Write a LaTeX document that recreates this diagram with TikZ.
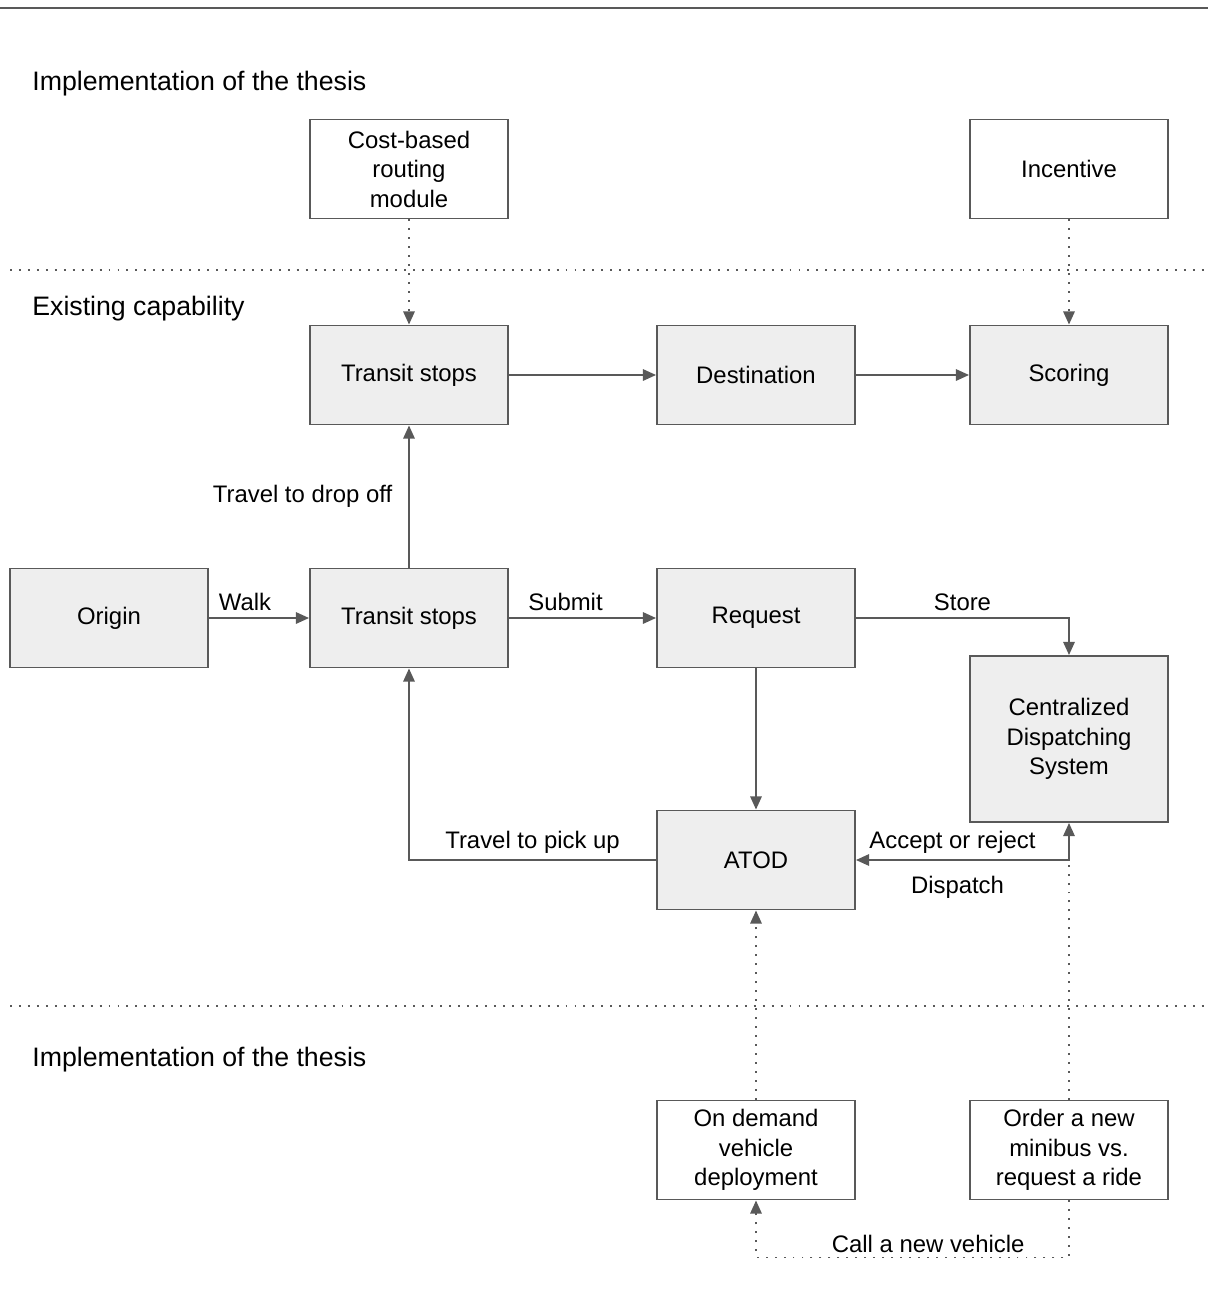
\documentclass[tikz,border=0pt]{standalone}
\usepackage{fontspec}
\setmainfont{Liberation Sans}
\usetikzlibrary{arrows.meta}
\definecolor{edgegray}{HTML}{595959}
\definecolor{boxfill}{HTML}{EEEEEE}

\begin{document}
\begin{tikzpicture}[x=0.02cm, y=-0.02cm, font=\fontsize{13.6pt}{16.8pt}\selectfont,
  >={Triangle[length=7.5pt,width=6.5pt]}]% one unit = one pixel of the sketch
\tikzstyle{block}=[draw=edgegray, line width=1.1pt, fill=boxfill, minimum width=3.96cm, minimum height=1.98cm, align=center, inner sep=2pt]
\tikzstyle{thesis}=[block, fill=white]
\tikzstyle{flow}=[draw=edgegray, line width=1.1pt, ->]
\tikzstyle{hint}=[draw=edgegray, line width=1.1pt, dash pattern=on 1.1pt off 4pt]
\tikzstyle{layer}=[hint]
\tikzstyle{title}=[anchor=west, inner sep=0pt, font=\fontsize{15.2pt}{18pt}\selectfont]

\useasboundingbox (0,0) rectangle (1208,1292);

% layers
\draw[edgegray, line width=1.4pt] (0,8) -- (1208,8);
\draw[layer] (10,270) -- (1208,270);
\draw[layer] (10,1006) -- (1208,1006);
\node[title] (thesisA) at (32,84) {Implementation of the thesis};
\node[title] (existing) at (32,309) {Existing capability};
\node[title] (thesisB) at (32,1060) {Implementation of the thesis};

% thesis parts
\node[thesis] (routing) at (409,169) {Cost-based\\routing\\module};
\node[thesis] (incentive) at (1069,169) {Incentive};
\node[thesis] (ondemand) at (756,1150) {On demand\\vehicle\\deployment};
\node[thesis] (order) at (1069,1150) {Order a new\\minibus vs.\\request a ride};

% existing parts
\node[block] (stopsA) at (409,375) {Transit stops};
\node[block] (dest) at (756,375) {Destination};
\node[block] (scoring) at (1069,375) {Scoring};
\node[block] (origin) at (109,618) {Origin};
\node[block] (stopsB) at (409,618) {Transit stops};
\node[block] (request) at (756,618) {Request};
\node[block, minimum height=3.32cm] (cds) at (1069,739) {Centralized\\Dispatching\\System};
\node[block] (atod) at (756,860) {ATOD};

% flows
\draw[flow] (stopsA) -- (dest);
\draw[flow] (dest) -- (scoring);
\draw[flow] (origin) -- node[above, xshift=-0.28cm] {Walk} (stopsB);
\draw[flow] (stopsB) -- node[above, xshift=-0.34cm] {Submit} (request);
\draw[flow] (stopsB) -- node[left, xshift=-0.2cm] {Travel to drop off} (stopsA);
\draw[flow] (request.east) -| node[pos=0.25, above] {Store} (cds.north);
\draw[flow] (request) -- (atod);
\draw[flow] (atod.west) -| node[pos=0.25, above] {Travel to pick up} (stopsB.south);
\draw[hint] (order.north) -- (cds.south);
\draw[flow, <->] (atod.east) -| node[pos=0.25, above, xshift=-0.2cm] {Accept or reject} node[pos=0.25, below, yshift=-0.18cm, xshift=-0.1cm] {Dispatch} (cds.south);

% hints
\draw[hint, ->] (routing) -- (stopsA);
\draw[hint, ->] (incentive) -- (scoring);
\draw[hint, ->] (ondemand) -- (atod);
\draw[hint, ->] (order.south) -- ++(0,57) -| node[pos=0.225, above, inner sep=2pt] {Call a new vehicle} (ondemand.south);

\end{tikzpicture}
\end{document}
